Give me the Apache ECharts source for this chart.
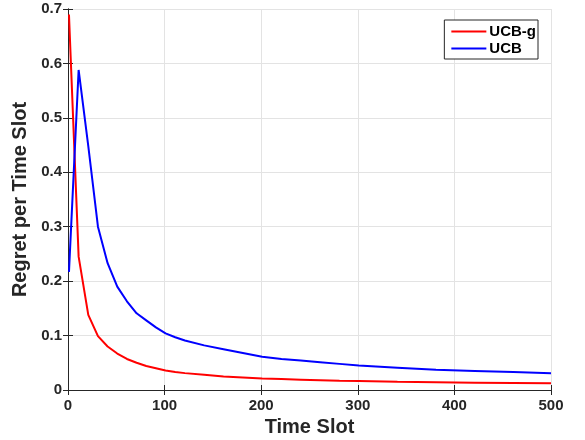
<!DOCTYPE html>
<html>
<head>
<meta charset="utf-8">
<script src="https://cdn.jsdelivr.net/npm/echarts@6/dist/echarts.min.js"></script>
<style>html,body{margin:0;padding:0;background:#fff}#c{width:585px;height:440px}</style>
</head>
<body>
<div id="c"></div>
<script>
const timeSlots = [1, 11, 21, 31, 41, 51, 61, 71, 81, 91, 101, 111, 121, 141, 161, 181, 201, 221, 241, 261, 281, 301, 341, 381, 421, 461, 500];
const ucbG = [0.69, 0.245, 0.138, 0.099, 0.080, 0.067, 0.057, 0.050, 0.044, 0.040, 0.036, 0.033, 0.031, 0.028, 0.025, 0.023, 0.021, 0.020, 0.019, 0.018, 0.017, 0.0165, 0.015, 0.0143, 0.0135, 0.0128, 0.0122];
const ucb = [0.217, 0.588, 0.448, 0.300, 0.233, 0.190, 0.163, 0.141, 0.128, 0.115, 0.104, 0.097, 0.091, 0.082, 0.075, 0.068, 0.061, 0.057, 0.054, 0.051, 0.048, 0.045, 0.041, 0.037, 0.035, 0.033, 0.031];
const xTicks = [0, 100, 200, 300, 400, 500];
const yTicks = [0, 0.1, 0.2, 0.3, 0.4, 0.5, 0.6, 0.7];

const FONT = '"Liberation Sans", Arial, sans-serif';
const TXT = '#262626';
const chart = echarts.init(document.getElementById('c'), null, {renderer: 'canvas'});
const pair = (xs, ys) => xs.map((x, i) => [x, ys[i]]);
const lineAxis = {show: true, lineStyle: {color: TXT, width: 1}};
chart.setOption({
  animation: false,
  backgroundColor: '#fff',
  grid: {left: 68, right: 34, top: 9, bottom: 50, containLabel: false, outerBoundsMode: 'none'},
  legend: {
    right: 47, top: 20, orient: 'vertical',
    itemWidth: 35, itemHeight: 2, itemGap: 2,
    padding: [4, 2, 3, 7],
    borderColor: TXT, borderWidth: 1, backgroundColor: '#fff',
    textStyle: {fontFamily: FONT, fontWeight: 'bold', fontSize: 15, color: '#000', padding: [0, 0, 0, -2]},
    data: [{name: 'UCB-g', icon: 'rect'}, {name: 'UCB', icon: 'rect'}]
  },
  xAxis: [{
    type: 'value', min: xTicks[0], max: xTicks[xTicks.length - 1], interval: 100,
    name: 'Time Slot', nameLocation: 'middle', nameGap: 23,
    nameTextStyle: {fontFamily: FONT, fontWeight: 'bold', fontSize: 20, color: TXT},
    axisLine: lineAxis,
    axisTick: {inside: true, length: 5, lineStyle: {color: TXT}},
    axisLabel: {fontFamily: FONT, fontWeight: 'bold', fontSize: 15, color: TXT, margin: 8},
    splitLine: {show: true, lineStyle: {color: '#e3e3e3', width: 1}}
  }, {
    type: 'value', position: 'top', min: 0, max: 500, interval: 100,
    axisLine: lineAxis,
    axisTick: {inside: true, length: 5, lineStyle: {color: TXT}},
    axisLabel: {show: false}, splitLine: {show: false}
  }],
  yAxis: [{
    type: 'value', min: yTicks[0], max: yTicks[yTicks.length - 1], interval: 0.1,
    name: 'Regret per Time Slot', nameLocation: 'middle', nameGap: 33,
    nameTextStyle: {fontFamily: FONT, fontWeight: 'bold', fontSize: 20, color: TXT},
    axisLine: lineAxis,
    axisTick: {inside: true, length: 5, lineStyle: {color: TXT}},
    axisLabel: {fontFamily: FONT, fontWeight: 'bold', fontSize: 15, color: TXT, margin: 6,
      formatter: v => (Math.round(v * 10) / 10).toString()},
    splitLine: {show: true, lineStyle: {color: '#e3e3e3', width: 1}}
  }, {
    type: 'value', position: 'right', min: 0, max: 0.7, interval: 0.1,
    axisLine: lineAxis,
    axisTick: {inside: true, length: 5, lineStyle: {color: TXT}},
    axisLabel: {show: false}, splitLine: {show: false}
  }],
  series: [{
    name: 'UCB-g', type: 'line', data: pair(timeSlots, ucbG),
    showSymbol: false, symbol: 'none', color: '#ff0000',
    lineStyle: {color: '#ff0000', width: 2}
  }, {
    name: 'UCB', type: 'line', data: pair(timeSlots, ucb),
    showSymbol: false, symbol: 'none', color: '#0000ff',
    lineStyle: {color: '#0000ff', width: 2}
  }]
});
</script>
</body>
</html>
